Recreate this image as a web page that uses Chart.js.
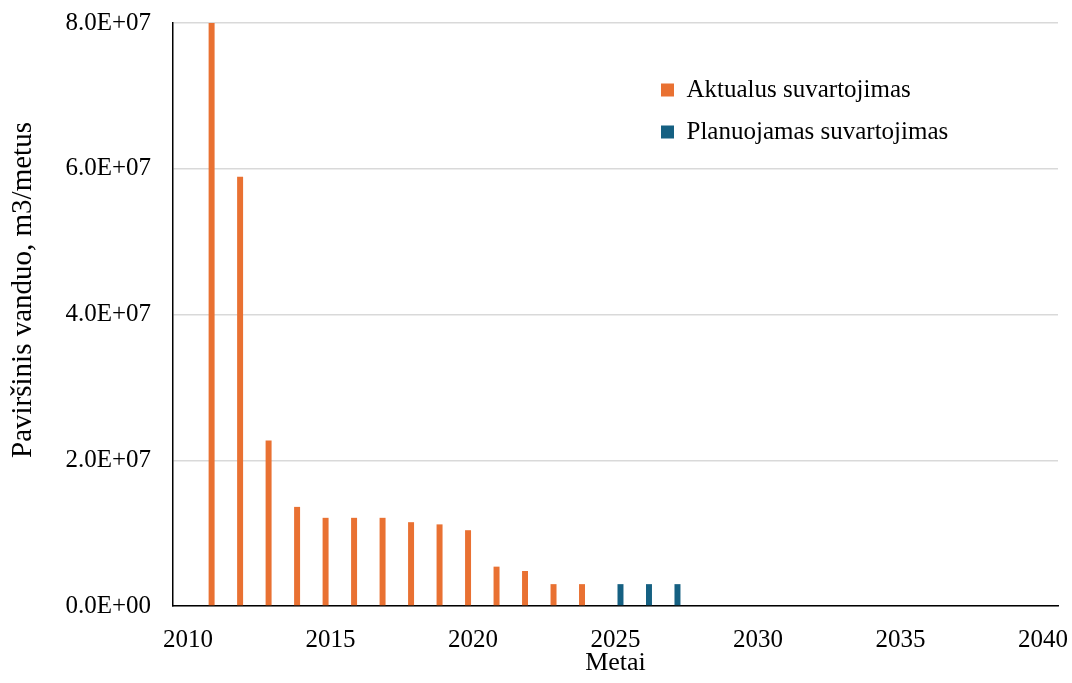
<!DOCTYPE html>
<html lang="lt">
<head>
<meta charset="utf-8">
<title>Paviršinis vanduo</title>
<script src="https://cdn.jsdelivr.net/npm/chart.js@4.4.1/dist/chart.umd.min.js"></script>
<style>
  html, body { margin: 0; padding: 0; background: #fff; }
  #wrap { width: 1072px; height: 683px; }
</style>
</head>
<body>
<div id="wrap"><canvas id="chart" width="1072" height="683"></canvas></div>
<script>
// Data
const actualYears = [2011, 2012, 2013, 2014, 2015, 2016, 2017, 2018, 2019, 2020, 2021, 2022, 2023, 2024];
const actualValues = [8.0e7, 5.89e7, 2.27e7, 1.36e7, 1.21e7, 1.21e7, 1.21e7, 1.15e7, 1.12e7, 1.04e7, 0.54e7, 0.48e7, 0.30e7, 0.30e7];
const plannedYears = [2025, 2026, 2027];
const plannedValues = [0.30e7, 0.30e7, 0.30e7];
const xTicks = [2010, 2015, 2020, 2025, 2030, 2035, 2040];
const yTicks = [0, 2e7, 4e7, 6e7, 8e7];
const seriesNames = ['Aktualus suvartojimas', 'Planuojamas suvartojimas'];
const seriesColors = ['#E97132', '#156082'];
const yTitle = 'Paviršinis vanduo, m3/metus';

const SERIF = "'Liberation Serif', 'Times New Roman', serif";

// 8.0E+07 style labels
function sci(v) {
    const parts = Number(v).toExponential(1).split('e');
    const sign = parts[1][0];
    const digits = parts[1].slice(1).padStart(2, '0');
    return parts[0] + 'E' + sign + digits;
}

// Put the legend inside the plot, upper right
const legendSpot = {
    id: 'legendSpot',
    afterLayout(chart) {
        const lg = chart.legend;
        if (!lg) return;
        lg.left = 644;
        lg.top = 60.5;
        lg.right = 1058;
        lg.bottom = 260;
    }
};

// Y axis title sits a bit above the middle of the axis in the original
const yTitleSpot = {
    id: 'yTitleSpot',
    afterDraw(chart) {
        const c = chart.ctx;
        c.save();
        c.translate(23, 290);
        c.rotate(-Math.PI / 2);
        c.textAlign = 'center';
        c.textBaseline = 'middle';
        c.fillStyle = '#000';
        c.font = '29px ' + SERIF;
        c.fillText(yTitle, 0, 0);
        c.restore();
    }
};

const ctx = document.getElementById('chart').getContext('2d');
new Chart(ctx, {
    type: 'bar',
    data: {
        datasets: [
            {
                label: seriesNames[0],
                data: actualYears.map((x, i) => ({ x: x, y: actualValues[i] })),
                backgroundColor: seriesColors[0],
                categoryPercentage: 0.7,
                barPercentage: 0.6
            },
            {
                label: seriesNames[1],
                data: plannedYears.map((x, i) => ({ x: x, y: plannedValues[i] })),
                backgroundColor: seriesColors[1],
                categoryPercentage: 0.7,
                barPercentage: 0.6
            }
        ]
    },
    options: {
        responsive: false,
        animation: false,
        layout: { autoPadding: false, padding: { top: 23, right: 14, bottom: 4, left: 0 } },
        plugins: {
            legend: {
                position: 'chartArea',
                align: 'start',
                labels: {
                    boxWidth: 13,
                    boxHeight: 13,
                    padding: 17,
                    color: '#000',
                    font: { family: SERIF, size: 25 }
                }
            },
            tooltip: { enabled: false }
        },
        scales: {
            x: {
                type: 'linear',
                min: 2009.47,
                max: 2040.53,
                offset: false,
                grid: { display: false },
                border: { display: true, color: '#000', width: 1.5 },
                afterBuildTicks: s => { s.ticks = xTicks.map(v => ({ value: v })); },
                afterFit: s => {
                    s.height = 73;
                    s.paddingLeft = 0;
                    s.paddingRight = 0;
                },
                ticks: {
                    padding: 11,
                    maxRotation: 0,
                    autoSkip: false,
                    color: '#000',
                    font: { family: SERIF, size: 25 },
                    callback: v => String(v)
                },
                title: {
                    display: true,
                    text: 'Metai',
                    color: '#000',
                    padding: 0,
                    font: { family: SERIF, size: 26 }
                }
            },
            y: {
                min: 0,
                max: 8e7,
                afterBuildTicks: s => { s.ticks = yTicks.map(v => ({ value: v })); },
                afterFit: s => {
                    s.width = 173;
                    s.paddingTop = 0;
                    s.paddingBottom = 0;
                },
                grid: { color: '#d9d9d9', lineWidth: 1.5, drawTicks: false },
                border: { display: true, color: '#000', width: 1.5 },
                ticks: {
                    padding: 22,
                    color: '#000',
                    font: { family: SERIF, size: 25 },
                    callback: v => sci(v)
                },
                title: { display: false }
            }
        }
    },
    plugins: [legendSpot, yTitleSpot]
});
</script>
</body>
</html>
